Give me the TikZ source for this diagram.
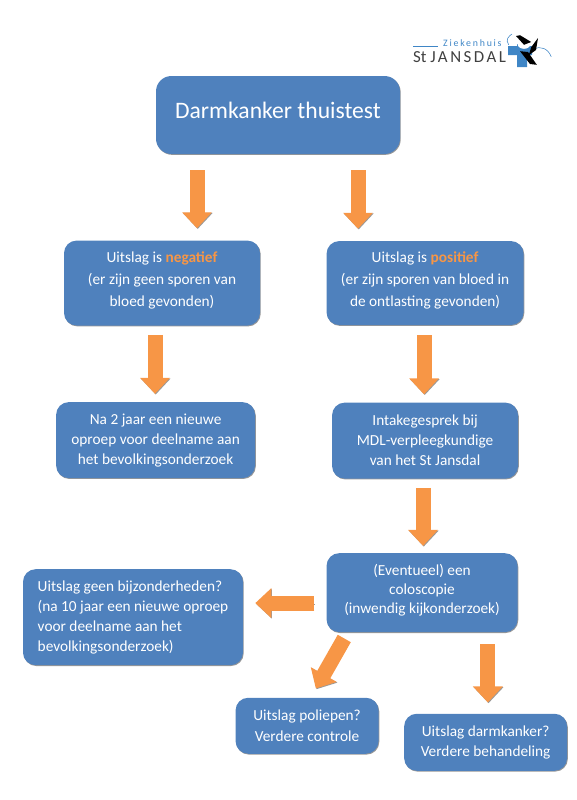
\documentclass[tikz,border=0pt]{standalone}
\usepackage{fontspec}
\setmainfont{Carlito}
\usetikzlibrary{arrows.meta, positioning, calc, shadows}
\definecolor{boxblue}{HTML}{4F81BD}
\definecolor{arrorange}{HTML}{F79646}
\definecolor{logoblue}{HTML}{3F86C6}
\tikzset{
  box/.style    ={fill=boxblue, rounded corners=9pt, align=center, text=white,
                  font=\fontsize{10.9}{15.4}\selectfont, inner sep=2pt,
                  drop shadow={shadow xshift=.5pt, shadow yshift=-.6pt, fill=black!45, opacity=.9}},
  tight/.style  ={font=\fontsize{10.9}{14.2}\selectfont},
  arr/.style    ={-{Triangle[length=.4cm, width=.72cm]}, line width=.375cm, draw=arrorange,
                  preaction={draw=black!40, transform canvas={shift={(.5pt,-.5pt)}}}},
}

\begin{document}
\begin{tikzpicture}
  \useasboundingbox (0,0) rectangle (14.4,-20);
  % Boxes
  \node[box, minimum width=6.1cm, minimum height=1.95cm, rounded corners=11pt, text depth=.25cm,
        font=\fontsize{16.8}{20}\selectfont] at (6.95,-2.875) (top) {Darmkanker thuistest};
  \node[box, minimum width=4.9cm, minimum height=2.125cm, below=2.15cm of top, xshift=-2.9cm, text depth=.2cm] (neg)
    {Uitslag is \textcolor{arrorange}{\textbf{negatief}}\\(er zijn geen sporen van\\bloed gevonden)};
  \node[box, minimum width=4.925cm, minimum height=2.1cm, right=1.65cm of neg, text depth=.2cm] (pos)
    {Uitslag is \textcolor{arrorange}{\textbf{positief}}\\(er zijn sporen van bloed in\\de ontlasting gevonden)};
  \node[box, tight, minimum width=4.975cm, minimum height=1.9cm, below=1.9cm of neg, xshift=-.16cm] (oproep)
    {Na 2 jaar een nieuwe\\oproep voor deelname aan\\het bevolkingsonderzoek};
  \node[box, tight, minimum width=4.65cm, minimum height=1.9cm, below=1.925cm of pos] (intake)
    {Intakegesprek bij\\MDL-verpleegkundige\\van het St Jansdal};
  \node[box, font=\fontsize{10.9}{13.5}\selectfont, minimum width=4.775cm, minimum height=1.975cm, below=1.85cm of intake, xshift=-.075cm, text depth=.18cm] (colo)
    {(Eventueel) een\\coloscopie\\(inwendig kijkonderzoek)};
  \node[box, tight, minimum width=5.5cm, minimum height=2.4cm, left=2.075cm of colo, yshift=-.6125cm, align=left] (geen)
    {Uitslag geen bijzonderheden?\\(na 10 jaar een nieuwe oproep\\voor deelname aan het\\bevolkingsonderzoek)};
  \node[box, minimum width=3.575cm, minimum height=1.4cm, below=1.625cm of colo, xshift=-2.875cm] (poliep)
    {Uitslag poliepen?\\Verdere controle};
  \node[box, tight, minimum width=4.075cm, minimum height=1.425cm, right=.625cm of poliep, yshift=-.4125cm] (kanker)
    {Uitslag darmkanker?\\Verdere behandeling};

  % Arrow ends
  \coordinate (a1) at ($(top.south)+(-2.025,-.4)$);
  \coordinate (b1) at ($(neg.north)+(.875,.3)$);
  \coordinate (a2) at ($(top.south)+(2,-.4)$);
  \coordinate (b2) at ($(pos.north)+(-1,.3)$);
  \coordinate (a3) at ($(neg.south)+(-.175,-.225)$);
  \coordinate (b3) at ($(oproep.north)+(0,.2)$);
  \coordinate (a4) at ($(pos.south)+(-.025,-.25)$);
  \coordinate (b4) at ($(intake.north)+(-.05,.2)$);
  \coordinate (a5) at ($(intake.south)+(-.05,-.225)$);
  \coordinate (b5) at ($(colo.north)+(.05,.175)$);
  \coordinate (a6) at ($(colo.west)+(-.3,-.26)$);
  \coordinate (b6) at ($(geen.east)+(.3,.35)$);
  \coordinate (a7) at ($(colo.south west)+(.45,-.15)$);
  \coordinate (b7) at ($(poliep.north east)+(-1.575,.225)$);
  \coordinate (a8) at ($(colo.south east)+(-.75,-.3)$);
  \coordinate (b8) at ($(kanker.north)+(.1,.275)$);
  \draw[arr] (a1)--(a1|-b1); \draw[arr] (a2)--(a2|-b2);
  \draw[arr] (a3)--(a3|-b3); \draw[arr] (a4)--(a4|-b4);
  \draw[arr] (a5)--(a5|-b5); \draw[arr] (a6)--(a6-|b6);
  \draw[arr] (a7)--(b7);     \draw[arr] (a8)--(a8|-b8);

  % Logo
  \draw[logoblue, line width=.5pt] (10.33,-1.17) -- (10.95,-1.17);
  \node[font=\fontsize{7}{8}\selectfont, text=logoblue, inner sep=0pt] (zh) at (11.81,-1.08) {\addfontfeature{LetterSpace=18}Ziekenhuis};
  \node[font=\fontsize{12}{13}\selectfont, text=black!75, inner sep=0pt] (sj) at (11.49,-1.43) {St \addfontfeature{LetterSpace=15}JANSDAL};
  \fill[logoblue] (12.7,-1.15) rectangle (13.3,-1.375) (12.925,-1.1) rectangle (13.175,-1.675);
  \draw[logoblue, line width=.4pt] (12.72,-1.12) .. controls (12.62,-1) and (12.72,-.9) .. (12.8,-.85)
    (13.35,-1.22) .. controls (13.5,-1.15) and (13.7,-1.2) .. (13.78,-1.42);
  \fill[white] (13.1,-1.1) ellipse (.16cm and .12cm);
  \fill[black] (12.9,-.9) -- (13,-.88) -- (13.28,-1.05) -- (13.1,-1.12) -- cycle
    (13.45,-.95) -- (13.4,-1.25) -- (13.22,-1.38) -- (13.28,-1.18) -- cycle
    (13,-1.28) -- (13.2,-1.3) -- (13.42,-1.62) -- (13.25,-1.6) -- cycle;
\end{tikzpicture}
\end{document}
